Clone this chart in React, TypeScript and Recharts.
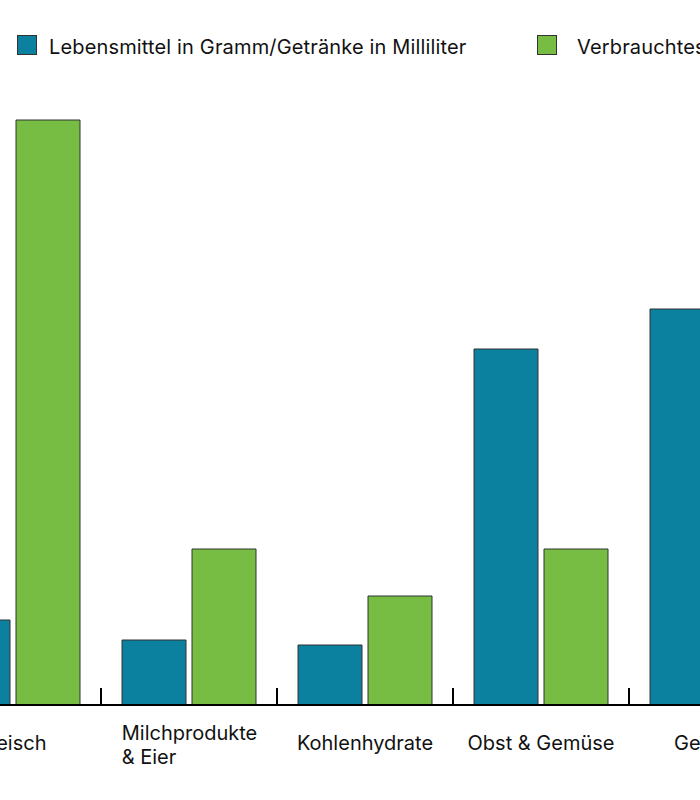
import React from "react";
import { BarChart, Bar, XAxis, YAxis } from "recharts";

const categories = ["Fleisch", "Milchprodukte & Eier", "Kohlenhydrate", "Obst & Gemüse", "Getränke"];
const labelLines = [["Fleisch"], ["Milchprodukte", "& Eier"], ["Kohlenhydrate"], ["Obst & Gemüse"], ["Getränke"]];
const lebensmittel = [85, 65, 60, 356, 396];
const wasser = [585, 156, 109, 156, 120];
const seriesNames = ["Lebensmittel in Gramm/Getränke in Milliliter", "Verbrauchtes Wasser in Litern"];
const colors = ["#0b819f", "#77bd44"];

const data = categories.map((c, i) => ({
  name: c,
  a: lebensmittel[i],
  b: wasser[i],
}));

const FONT = "Inter, 'Noto Sans', sans-serif";

const Tick = (props: any) => {
  const { x, y, payload, index } = props;
  const lines = labelLines[index] || [payload.value];
  const off = payload.offset || 0;
  const fs = 20;
  const lh = 24;
  const longest = Math.max(...lines.map((l: string) => l.length));
  const w = longest * 10.5;
  const startY = y + 45 + (lines.length > 1 ? 2 : 0) - ((lines.length - 1) * lh) / 2;
  return (
    <g>
      <line x1={x + off} x2={x + off} y1={y - 17} y2={y} stroke="#000" strokeWidth={2} />
      {lines.length > 1 ? (
        <text x={x - w / 2 + 1} y={startY} textAnchor="start" fontSize={fs} fontFamily={FONT} fill="#111">
          {lines.map((l: string, i: number) => (
            <tspan key={i} x={x - w / 2 + 1} y={startY + i * lh}>
              {l}
            </tspan>
          ))}
        </text>
      ) : (
        <text x={x} y={startY} textAnchor="middle" fontSize={fs} fontFamily={FONT} fill="#111">
          {lines[0]}
        </text>
      )}
    </g>
  );
};

export default function App() {
  return (
    <div
      style={{
        position: "absolute",
        left: 0,
        top: 0,
        width: 700,
        height: 800,
        overflow: "hidden",
        background: "#fff",
        fontFamily: FONT,
      }}
    >
      {seriesNames.map((n, i) => (
        <div
          key={n}
          style={{
            position: "absolute",
            left: i === 0 ? 17 : 537,
            top: 35,
            display: "flex",
            alignItems: "center",
            whiteSpace: "nowrap",
            fontSize: 20,
            letterSpacing: 0.15,
            color: "#111",
            height: 20,
          }}
        >
          <span
            style={{
              display: "inline-block",
              width: 20,
              height: 20,
              boxSizing: "border-box",
              background: colors[i],
              border: "1.5px solid #333",
              marginRight: i === 0 ? 12 : 20,
            }}
          />
          <span style={{ position: "relative", top: 2 }}>{n}</span>
        </div>
      ))}
      <div style={{ position: "absolute", left: -75, top: 0 }}>
        <BarChart
          width={880}
          height={800}
          data={data}
          margin={{ top: 105, right: 0, bottom: 0, left: 0 }}
          barCategoryGap={21}
          barGap={6}
        >
          <YAxis hide domain={[0, 600]} />
          <XAxis
            dataKey="name"
            axisLine={{ stroke: "#000", strokeWidth: 2 }}
            tickLine={false}
            tickSize={0}
            tickMargin={0}
            tick={<Tick />}
            interval={0}
            height={95}
          />
          <Bar dataKey="a" fill={colors[0]} stroke="#333" strokeWidth={1} isAnimationActive={false} />
          <Bar dataKey="b" fill={colors[1]} stroke="#333" strokeWidth={1} isAnimationActive={false} />
        </BarChart>
      </div>
    </div>
  );
}
